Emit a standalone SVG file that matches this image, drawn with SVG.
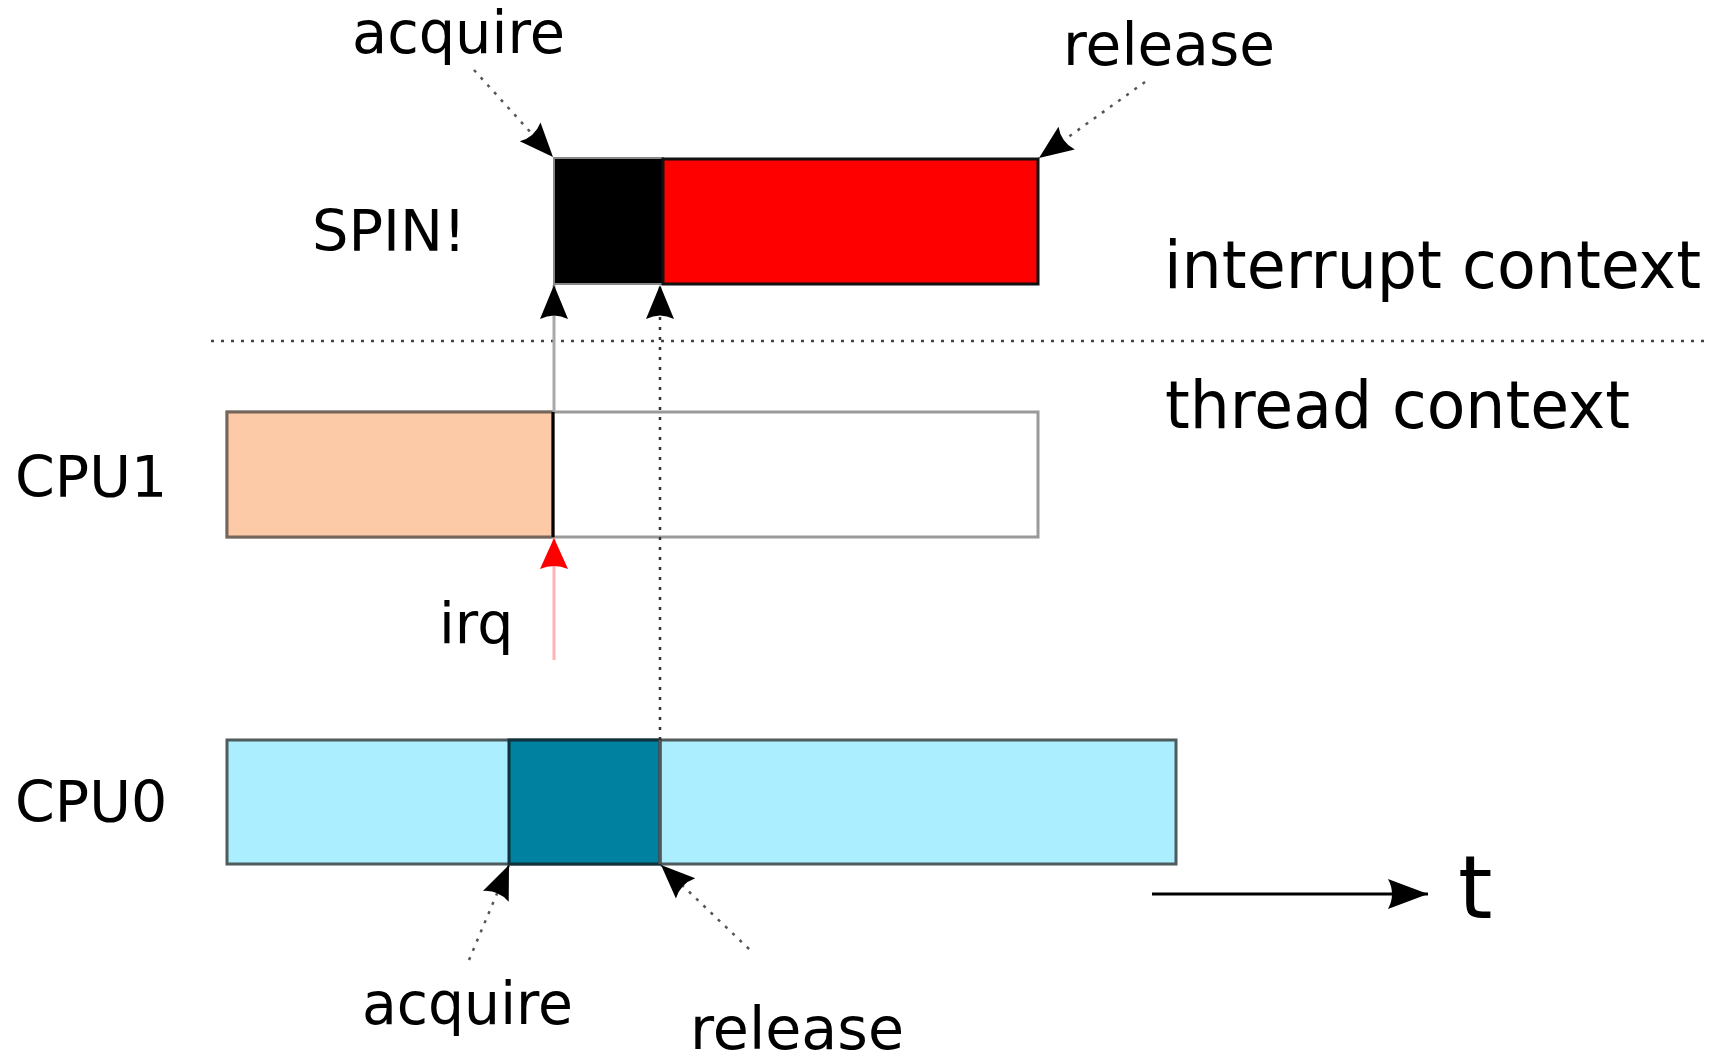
<svg xmlns="http://www.w3.org/2000/svg" width="1711" height="1050" viewBox="0 0 1711 1050">
  <style>
    text { font-family: "DejaVu Sans", "Bitstream Vera Sans", "Liberation Sans", sans-serif; fill: #000; }
    .lbl { font-size: 57px; }
    .ctx { font-size: 65px; }
    .dot { fill: none; stroke: #555; stroke-width: 2.5; stroke-dasharray: 3 7; }
    .solid { fill: none; stroke-width: 3; }
  </style>
  <defs>
    <marker id="head" markerUnits="userSpaceOnUse" markerWidth="40" markerHeight="34" viewBox="-36 -17 40 34" refX="0" refY="0" orient="auto">
      <path d="M0,0 L-34,-14 Q-27,0 -34,14 Z" fill="#000"/>
    </marker>
    <marker id="headRed" markerUnits="userSpaceOnUse" markerWidth="40" markerHeight="34" viewBox="-36 -17 40 34" refX="0" refY="0" orient="auto">
      <path d="M0,0 L-31,-14 Q-25,0 -31,14 Z" fill="#ff0000"/>
    </marker>
    <marker id="headTime" markerUnits="userSpaceOnUse" markerWidth="44" markerHeight="34" viewBox="-42 -17 44 34" refX="0" refY="0" orient="auto">
      <path d="M0,0 L-40,-15 Q-32,0 -40,15 Z" fill="#000"/>
    </marker>
  </defs>

  <rect width="1711" height="1050" fill="#fff"/>

  <!-- interrupt handler on CPU1: spinning, then holding the lock -->
  <g id="spin">
    <rect x="554" y="158" width="109" height="126" fill="#000" stroke="#888" stroke-width="2"/>
    <rect x="663" y="159" width="375" height="125" fill="#ff0000" stroke="#111" stroke-width="3"/>
    <text class="lbl" x="312" y="251" textLength="154" lengthAdjust="spacingAndGlyphs">SPIN!</text>
  </g>

  <!-- CPU1 thread timeline -->
  <g id="cpu1">
    <rect x="227" y="412" width="811" height="125" fill="#fff" stroke="#9a9a9a" stroke-width="3"/>
    <rect x="227" y="412" width="326" height="125" fill="#fdcaa7" stroke="#75655b" stroke-width="3"/>
    <line x1="553" y1="412" x2="553" y2="537" stroke="#000" stroke-width="3"/>
    <text class="lbl" x="15" y="497">CPU1</text>
  </g>

  <!-- CPU0 thread timeline with the critical section -->
  <g id="cpu0">
    <rect x="227" y="740" width="949" height="124" fill="#aaeeff" stroke="#4f5b5d" stroke-width="3"/>
    <rect x="509" y="740" width="151" height="124" fill="#0081a0" stroke="#10303a" stroke-width="3"/>
    <line x1="660" y1="740" x2="660" y2="864" stroke="#555" stroke-width="3"/>
    <text class="lbl" x="15" y="822">CPU0</text>
  </g>

  <!-- context labels -->
  <g id="contexts">
    <text class="ctx" x="1164" y="288" textLength="537" lengthAdjust="spacingAndGlyphs">interrupt context</text>
    <text class="ctx" x="1165" y="428" font-size="64" textLength="465" lengthAdjust="spacingAndGlyphs">thread context</text>
  </g>

  <!-- event labels -->
  <g id="labels">
    <text x="352" y="53" font-size="59" textLength="213" lengthAdjust="spacingAndGlyphs">acquire</text>
    <text x="1063" y="65" font-size="58" textLength="212" lengthAdjust="spacingAndGlyphs">release</text>
    <text x="439" y="643" font-size="57">irq</text>
    <text x="362" y="1024" font-size="58" textLength="211" lengthAdjust="spacingAndGlyphs">acquire</text>
    <text x="690" y="1049" font-size="58" textLength="214" lengthAdjust="spacingAndGlyphs">release</text>
    <text x="1458" y="918" font-size="88">t</text>
  </g>

  <g id="connectors">
    <!-- boundary between interrupt and thread context -->
    <line x1="211" y1="341" x2="1711" y2="341" stroke="#444" stroke-width="2.5" stroke-dasharray="3 7"/>
    <!-- CPU1 enters the interrupt handler -->
    <line class="solid" x1="554" y1="412" x2="554" y2="285" stroke="#a8a8a8" marker-end="url(#head)"/>
    <!-- CPU0 release lets the handler take the lock -->
    <line x1="660" y1="740" x2="660" y2="285" stroke="#333" stroke-width="2.5" stroke-dasharray="3 7" marker-end="url(#head)"/>
    <!-- irq -->
    <line class="solid" x1="554" y1="660" x2="554" y2="538" stroke="#ffb3b3" marker-end="url(#headRed)"/>
    <!-- acquire / release pointers -->
    <line class="dot" x1="474" y1="70" x2="553" y2="157" marker-end="url(#head)"/>
    <line class="dot" x1="1145" y1="82" x2="1039" y2="158" marker-end="url(#head)"/>
    <line class="dot" x1="469" y1="960" x2="509" y2="865" marker-end="url(#head)"/>
    <line class="dot" x1="749" y1="949" x2="661" y2="865" marker-end="url(#head)"/>
    <!-- time axis -->
    <line class="solid" x1="1152" y1="894" x2="1428" y2="894" stroke="#000" marker-end="url(#headTime)"/>
  </g>
</svg>
